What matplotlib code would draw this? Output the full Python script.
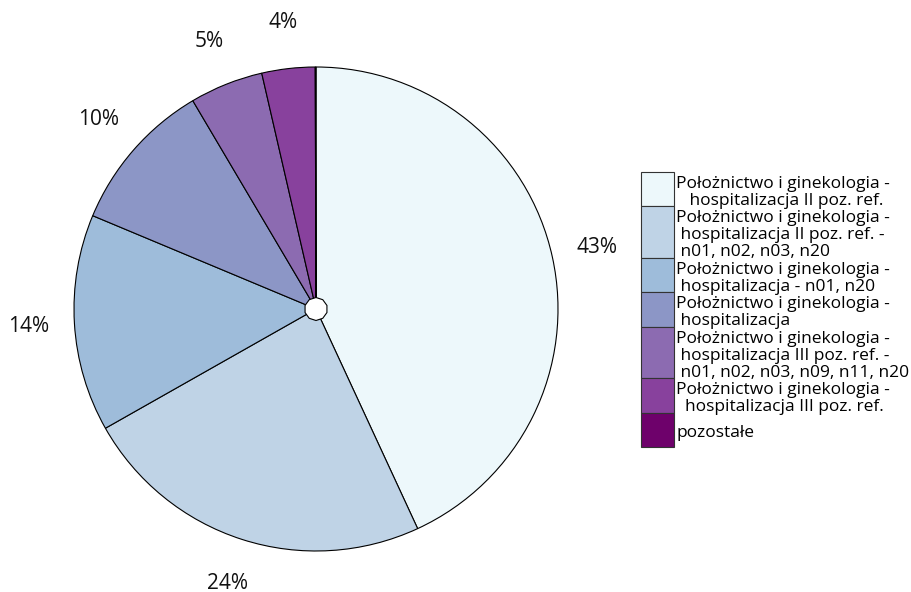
import matplotlib
matplotlib.use("Agg")
import matplotlib.pyplot as plt
from matplotlib.patches import Rectangle, RegularPolygon

plt.rcParams['font.family'] = ['Open Sans', 'DejaVu Sans']

# udziały procentowe
categories = [
    "Położnictwo i ginekologia -\n   hospitalizacja II poz. ref.",
    "Położnictwo i ginekologia -\n hospitalizacja II poz. ref. -\n n01, n02, n03, n20",
    "Położnictwo i ginekologia -\n hospitalizacja - n01, n20",
    "Położnictwo i ginekologia -\n hospitalizacja",
    "Położnictwo i ginekologia -\n hospitalizacja III poz. ref. -\n n01, n02, n03, n09, n11, n20",
    "Położnictwo i ginekologia -\n  hospitalizacja III poz. ref.",
    "pozostałe",
]
values = [43.1, 23.7, 14.5, 10.2, 4.9, 3.55, 0.05]
pct_labels = ["43%", "24%", "14%", "10%", "5%", "4%", ""]
colors = ["#edf8fb", "#bfd3e6", "#9ebcda", "#8c96c6", "#8c6bb1", "#88419d", "#6e016b"]

W, H = 911, 592
fig = plt.figure(figsize=(W / 100, H / 100), dpi=100)
ax = fig.add_axes([0, 0, 1, 1])

cx, cy, r = 316, H - 309, 242
wedges, texts = ax.pie(values, labels=pct_labels, colors=colors, startangle=90,
                       counterclock=False, center=(cx, cy), radius=r,
                       labeldistance=1.19, frame=True,
                       wedgeprops=dict(edgecolor="black", linewidth=0.8),
                       textprops=dict(fontsize=15, color="#111111"))
for t in texts:
    t.set_ha("center")
    t.set_va("center")
ax.set_xlim(0, W)
ax.set_ylim(0, H)
ax.set_aspect('equal')
ax.axis('off')

# mała biała "dziurka" w środku
ax.add_patch(RegularPolygon((cx, cy), numVertices=10, radius=11.5,
                            facecolor="white", edgecolor="black", lw=0.8, zorder=5))

# legenda rysowana ręcznie
lx, top, sw = 641, H - 172, 33
row = 17.2
for lab, col in zip(categories, colors):
    n = lab.count("\n") + 1
    h = row * max(n, 2)
    ax.add_patch(Rectangle((lx, top - h), sw, h, facecolor=col,
                           edgecolor="#333333", lw=0.8, zorder=3))
    ax.text(lx + sw + 2, top - h / 2 - 3, lab, ha="left", va="center",
            fontsize=12.5, linespacing=1.08, color="black", zorder=4)
    top -= h

fig.savefig("out.png", dpi=100)
